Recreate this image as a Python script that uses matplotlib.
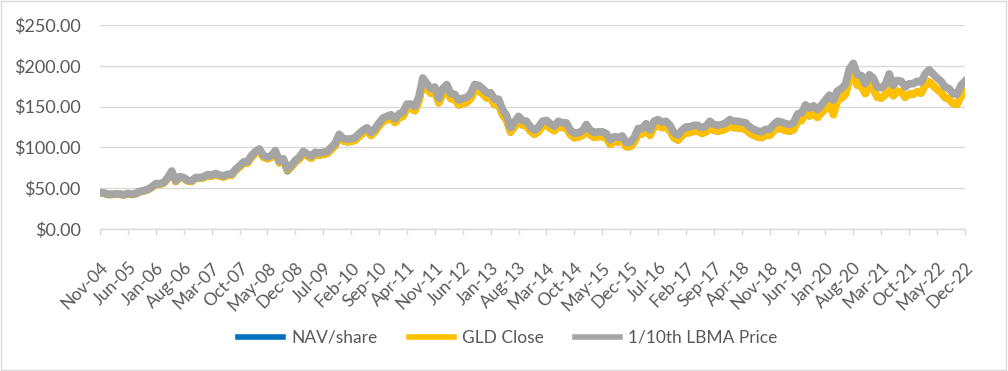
import matplotlib
matplotlib.use("Agg")
import matplotlib.pyplot as plt
from matplotlib.patches import Rectangle
import numpy as np

# monthly values, Nov-04 .. Dec-22
lbma_tenth = [
    44.5, 44.0,
    42.5, 42.5, 43.0, 42.8, 42.0, 43.5, 42.5, 43.5, 46.0, 47.0, 48.5, 51.5,
    55.5, 55.5, 57.0, 63.0, 71.0, 59.0, 64.0, 63.0, 59.5, 59.0, 63.0, 63.0,
    64.0, 66.5, 66.0, 68.0, 66.0, 65.0, 67.0, 67.0, 73.0, 77.5, 82.0, 82.5,
    90.0, 95.0, 98.0, 90.0, 88.0, 90.0, 96.0, 83.0, 86.0, 74.0, 78.0, 84.0,
    88.0, 95.0, 92.0, 89.0, 94.0, 93.0, 94.0, 95.0, 100.0, 105.0, 116.0, 111.0,
    110.0, 110.5, 112.0, 117.0, 121.0, 124.0, 118.0, 123.0, 130.0, 136.0, 138.0, 140.0,
    135.0, 141.0, 143.0, 153.0, 153.0, 150.0, 162.0, 185.0, 178.0, 172.0, 174.0, 160.0,
    172.0, 177.0, 166.0, 165.0, 158.0, 160.0, 161.0, 166.0, 177.0, 176.0, 172.0, 167.0,
    167.0, 159.0, 159.0, 146.0, 139.0, 124.0, 131.0, 138.0, 133.0, 132.0, 125.0, 121.0,
    125.0, 132.0, 133.0, 129.0, 126.0, 132.0, 130.0, 130.0, 121.0, 117.0, 118.0, 120.0,
    128.0, 121.0, 118.0, 119.0, 119.0, 117.0, 109.0, 113.0, 112.0, 114.0, 106.0, 106.0,
    112.0, 123.0, 123.0, 129.0, 121.0, 132.0, 134.0, 131.0, 132.0, 127.0, 118.0, 115.0,
    121.0, 125.0, 125.0, 127.0, 127.0, 124.0, 126.0, 132.0, 128.0, 127.0, 128.0, 130.0,
    134.0, 132.0, 132.0, 131.0, 130.0, 125.0, 122.0, 120.0, 119.0, 122.0, 122.0, 128.0,
    132.0, 131.0, 129.0, 128.0, 130.0, 141.0, 142.0, 152.0, 148.0, 151.0, 146.0, 152.0,
    158.0, 164.0, 158.0, 169.0, 172.0, 177.0, 196.0, 203.0, 189.0, 188.0, 178.0, 189.0,
    185.0, 174.0, 173.0, 177.0, 190.0, 176.0, 182.0, 181.0, 174.0, 178.0, 178.0, 181.0,
    180.0, 190.0, 195.0, 190.0, 185.0, 181.0, 174.0, 172.0, 166.0, 165.0, 176.0, 181.0,
]

gld_close = [
    44.1, 43.6,
    42.1, 42.1, 42.6, 42.4, 41.6, 43.1, 42.1, 43.1, 45.5, 46.5, 48.0, 51.0,
    54.7, 54.7, 56.1, 62.1, 69.9, 58.1, 63.0, 62.1, 58.6, 58.1, 62.1, 62.1,
    62.7, 65.2, 64.7, 66.6, 64.7, 63.7, 65.7, 65.7, 71.5, 76.0, 80.4, 80.9,
    87.9, 92.8, 95.7, 87.9, 86.0, 87.9, 93.8, 81.1, 84.0, 72.3, 76.2, 82.1,
    85.6, 92.4, 89.5, 86.6, 91.5, 90.5, 91.5, 92.4, 97.3, 102.2, 112.9, 108.0,
    106.7, 107.2, 108.6, 113.5, 117.4, 120.3, 114.5, 119.3, 126.1, 131.9, 133.9, 135.8,
    130.4, 136.2, 138.1, 147.8, 147.8, 144.9, 156.5, 178.7, 172.0, 166.2, 168.1, 154.6,
    165.5, 170.3, 159.7, 158.7, 152.0, 153.9, 154.9, 159.7, 170.3, 169.3, 165.5, 160.7,
    160.0, 152.3, 152.3, 139.9, 133.2, 118.8, 125.5, 132.2, 127.4, 126.5, 119.8, 115.9,
    119.4, 126.1, 127.0, 123.2, 120.3, 126.1, 124.2, 124.2, 115.6, 111.7, 112.7, 114.6,
    121.7, 115.1, 112.2, 113.2, 113.2, 111.3, 103.7, 107.5, 106.5, 108.4, 100.8, 100.8,
    106.1, 116.5, 116.5, 122.2, 114.6, 125.0, 126.9, 124.1, 125.0, 120.3, 111.7, 108.9,
    114.2, 118.0, 118.0, 119.9, 119.9, 117.1, 118.9, 124.6, 120.8, 119.9, 120.8, 122.7,
    126.0, 124.1, 124.1, 123.1, 122.2, 117.5, 114.7, 112.8, 111.9, 114.7, 114.7, 120.3,
    123.6, 122.6, 120.7, 119.8, 121.7, 132.0, 132.9, 142.3, 138.5, 141.3, 136.7, 142.3,
    147.3, 152.8, 140.0, 157.5, 160.3, 165.0, 182.7, 189.2, 176.1, 175.2, 165.9, 176.1,
    171.7, 161.5, 160.5, 164.3, 176.3, 163.3, 168.9, 168.0, 161.5, 165.2, 165.2, 168.0,
    166.5, 175.8, 180.4, 175.8, 171.1, 167.4, 161.0, 159.1, 153.6, 152.6, 162.8, 167.4,
]

nav_share = [
    44.0, 43.5,
    42.0, 42.0, 42.5, 42.3, 41.5, 43.0, 42.0, 43.0, 45.4, 46.4, 47.9, 50.9,
    54.6, 54.6, 56.0, 62.0, 69.6, 57.8, 62.9, 62.0, 58.5, 58.0, 62.0, 62.0,
    62.6, 65.1, 64.6, 66.5, 64.6, 63.6, 65.6, 65.6, 71.4, 75.9, 80.3, 80.8,
    87.8, 92.7, 95.6, 87.8, 85.9, 87.8, 93.7, 80.8, 83.9, 71.0, 75.6, 82.0,
    85.5, 92.3, 89.4, 86.5, 91.4, 90.4, 91.4, 92.3, 97.2, 102.1, 112.8, 107.9,
    106.6, 107.1, 108.5, 113.4, 117.3, 120.2, 114.4, 119.2, 126.0, 131.8, 133.8, 135.7,
    130.3, 136.1, 138.0, 147.7, 147.7, 144.8, 156.4, 178.6, 171.6, 166.1, 168.0, 154.5,
    165.4, 170.2, 159.6, 158.6, 151.9, 153.8, 154.8, 159.6, 170.2, 169.2, 165.4, 160.6,
    159.9, 152.2, 152.2, 139.8, 133.1, 118.5, 125.4, 132.1, 127.3, 126.4, 119.7, 115.8,
    119.3, 126.0, 126.9, 123.1, 120.2, 126.0, 124.1, 124.1, 115.5, 111.6, 112.6, 114.5,
    121.6, 115.0, 112.1, 113.1, 113.1, 111.2, 103.6, 107.4, 106.4, 108.3, 100.7, 100.7,
    106.0, 116.4, 116.4, 122.1, 114.5, 124.9, 126.8, 124.0, 124.9, 120.2, 111.6, 108.8,
    114.1, 117.9, 117.9, 119.8, 119.8, 117.0, 118.8, 124.5, 120.7, 119.8, 120.7, 122.6,
    125.9, 124.0, 124.0, 123.0, 122.1, 117.4, 114.6, 112.7, 111.8, 114.6, 114.6, 120.2,
    123.5, 122.5, 120.6, 119.7, 121.6, 131.9, 132.8, 142.2, 138.4, 141.2, 136.6, 142.2,
    147.2, 152.7, 141.5, 157.4, 160.2, 164.9, 182.6, 189.1, 176.0, 175.1, 165.8, 176.0,
    171.6, 161.4, 160.4, 164.2, 176.2, 163.2, 168.8, 167.9, 161.4, 165.1, 165.1, 167.9,
    166.4, 175.7, 180.3, 175.7, 171.0, 167.3, 160.9, 159.0, 153.5, 152.5, 162.7, 167.3,
]

tick_labels = [
    "Nov-04", "Jun-05", "Jan-06", "Aug-06", "Mar-07", "Oct-07", "May-08", "Dec-08",
    "Jul-09", "Feb-10", "Sep-10", "Apr-11", "Nov-11", "Jun-12", "Jan-13", "Aug-13",
    "Mar-14", "Oct-14", "May-15", "Dec-15", "Jul-16", "Feb-17", "Sep-17", "Apr-18",
    "Nov-18", "Jun-19", "Jan-20", "Aug-20", "Mar-21", "Oct-21", "May-22", "Dec-22",
]
y_ticks = [0, 50, 100, 150, 200, 250]

TEXT = "#595959"
GRID = "#d9d9d9"

plt.rcParams["font.family"] = ["Lato", "DejaVu Sans"]

months = np.arange(len(lbma_tenth))

fig = plt.figure(figsize=(10.08, 3.71), dpi=100)
ax = fig.add_axes([0.0992, 0.383, 0.8581, 0.5497])

ax.plot(months, nav_share, color="#0070C0", lw=5.0, label="NAV/share",
        solid_joinstyle="round")
ax.plot(months, gld_close, color="#FFC000", lw=5.5, label="GLD Close",
        solid_joinstyle="round")
ax.plot(months, lbma_tenth, color="#A5A5A5", lw=5.5, label="1/10th LBMA Price",
        solid_joinstyle="round")

ax.set_xlim(0, len(lbma_tenth) - 1)
ax.set_ylim(0, 250)
ax.set_yticks(y_ticks)
ax.set_yticklabels(["$%.2f" % v for v in y_ticks])
ax.yaxis.grid(True, color=GRID, lw=1.0)
ax.set_axisbelow(True)

ax.set_xticks(np.arange(0, len(lbma_tenth), 7))
ax.set_xticklabels(tick_labels, rotation=45, ha="right", rotation_mode="anchor")

for s in ["top", "right", "left"]:
    ax.spines[s].set_visible(False)
ax.spines["bottom"].set_color(GRID)
ax.spines["bottom"].set_linewidth(1.0)

ax.tick_params(axis="y", length=0, pad=14, labelsize=13, labelcolor=TEXT)
ax.tick_params(axis="x", length=4, color=GRID, width=1.0, pad=18,
               labelsize=12.5, labelcolor=TEXT)

leg = fig.legend(loc="center", bbox_to_anchor=(0.504, 0.089), ncol=3,
                 frameon=False, fontsize=12.5, handlelength=2.6,
                 handletextpad=0.46, columnspacing=1.8, labelcolor=TEXT)
for h in leg.get_lines():
    h.set_linewidth(4.0)

# outer chart border
fig.patches.append(Rectangle((0.001, 0.002), 0.997, 0.995, transform=fig.transFigure,
                             fill=False, edgecolor=GRID, lw=1.0))

fig.savefig("out.png", dpi=100)
